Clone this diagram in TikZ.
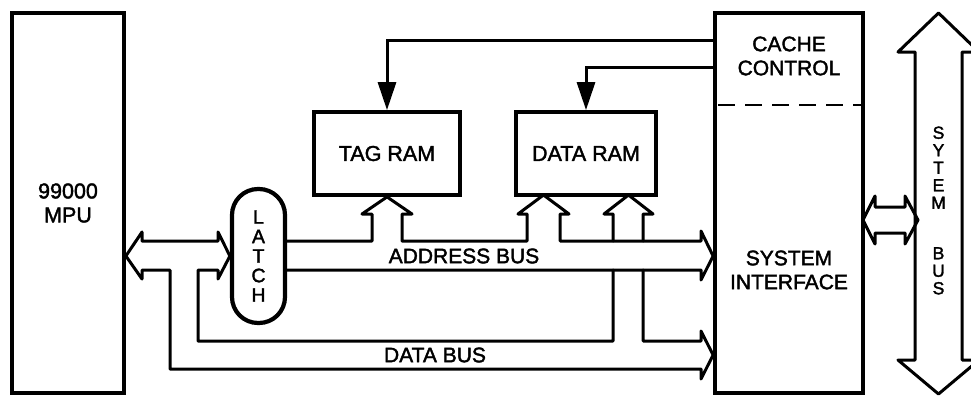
\documentclass[tikz,border=0pt]{standalone}
\usepackage{fontspec}
\setmainfont{Liberation Sans}[FakeBold=1.8]
\usetikzlibrary{arrows.meta}

\tikzset{
  block/.style={draw, line width=3.8pt, inner sep=0pt, align=center,
    font=\fontsize{21.5}{24}\selectfont},
  bus/.style={line width=3pt, line join=round, line cap=round},
  ctrl/.style={line width=3pt, -{Triangle[length=28pt,width=18pt]}},
  buslabel/.style={inner sep=0pt, font=\fontsize{21}{24}\selectfont},
  stack/.style={inner sep=0pt, align=center, font=\fontsize{17.5}{17.5}\selectfont},
}

\begin{document}
\begin{tikzpicture}[x=1pt, y=-1pt]
   \fill[white] (0,0) rectangle (971,397);
   \useasboundingbox (0,0) rectangle (971,397);
   \clip (0,0) rectangle (971,397);

   % Blocks
   \node[block, minimum width=112pt, minimum height=380pt] (mpu) at (68,203) {99000\\MPU};
   \node[block, minimum width=146pt, minimum height=83pt] (tag) at (387,153.5) {TAG RAM};
   \node[block, minimum width=140pt, minimum height=83pt] (dram) at (586,153.5) {DATA RAM};
   \node[block, minimum width=148pt, minimum height=380pt] (si) at (789,203) {};
   \node[block, line width=4.2pt, rounded corners=26pt, minimum width=53pt,
         minimum height=134pt, font=\fontsize{19.5}{19.5}\selectfont] (latch) at (258.5,256) {L\\A\\T\\C\\H};

   % Two parts of the system interface
   \draw[line width=2.6pt, dash pattern=on 17pt off 10pt]
      ([xshift=5pt,yshift=-94pt]si.north west) -- ([yshift=-94pt]si.north east);
   \node[buslabel, align=center] (cc) at (789,56) {CACHE\\CONTROL};
   \node[buslabel, align=center] (sif) at (789,270) {SYSTEM\\INTERFACE};

   % Bus labels
   \node[buslabel] (abus) at (464,256) {ADDRESS BUS};
   \node[buslabel] (dbus) at (435,355) {DATA BUS};

   % Control lines from the cache control
   \draw[ctrl] ([yshift=-29pt]si.north west) -| (tag.north);
   \draw[ctrl] ([yshift=-56pt]si.north west) -| (dram.north);

   % MPU <-> latch, both branches down to the data bus
   \draw[bus] (613,270) -- (613,341) -- (198,341) -- (198,270) -- (218,270)
      -- (218,279) -- (latch.west) -- (218,232) -- (218,241) -- (142,241)
      -- (142,232) -- (mpu.east |- latch.west) -- (142,279) -- (142,270)
      -- (170,270) -- (170,369) -- (701,369) -- (701,379) -- (si.west |- dbus)
      -- (701,331) -- (701,341) -- (643,341) -- (643,270);

   % Address bus with the branches up to the RAMs
   \draw[bus] (285,241) -- (372,241) -- (372,214) -- (362,214) -- (tag.south)
      -- (412,214) -- (402,214) -- (402,241) -- (527,241) -- (527,214)
      -- (518,214) -- (543.5,195) -- (569,214) -- (560,214) -- (560,241)
      -- (701,241) -- (701,231) -- (si.west |- abus) -- (701,280) -- (701,270)
      -- (285,270);

   % Data bus branch up to the data RAM, crossing the address bus
   \draw[bus] (613,241) -- (613,214) -- (604,214) -- (628.5,195) -- (653,214)
      -- (643,214) -- (643,241);

   % Link between system interface and system bus
   \draw[bus] (875,207) -- (905,207) -- (905,196) -- (918,220) -- (905,244)
      -- (905,233) -- (875,233) -- (875,244) -- (863,220) -- (875,196) -- cycle;

   % System bus
   \draw[bus] (915,52) -- (915,360) -- (898,360) -- (938.5,394) -- (979,360)
      -- (962,360) -- (962,52) -- (979,52) -- (938.5,13) -- (898,52) -- cycle;
   \node[stack] (sbus) at (938.5,210.5)
      {S\\Y\\T\\E\\M\\[33pt]B\\U\\S};
\end{tikzpicture}
\end{document}
